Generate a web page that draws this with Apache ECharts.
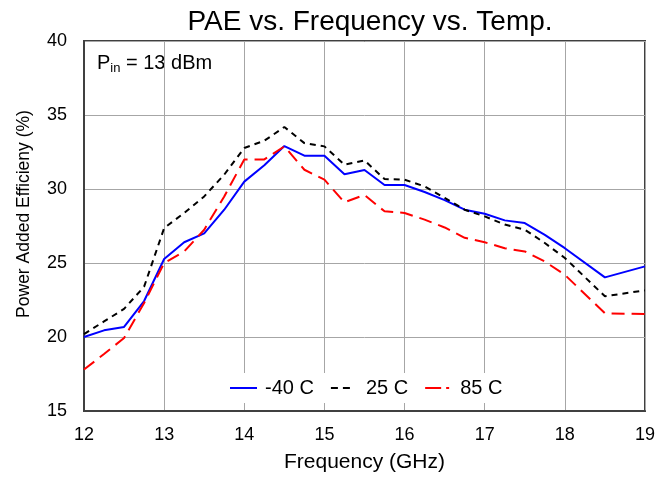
<!DOCTYPE html>
<html>
<head>
<meta charset="utf-8">
<script src="https://cdn.jsdelivr.net/npm/echarts@6/dist/echarts.min.js"></script>
<style>
  html, body { margin: 0; padding: 0; background: #fff; }
  #chart { width: 670px; height: 478px; }
</style>
</head>
<body>
<div id="chart"></div>
<script>
const freq = [12, 12.25, 12.5, 12.75, 13, 13.25, 13.5, 13.75, 14, 14.25, 14.5, 14.75, 15, 15.25, 15.5, 15.75, 16, 16.25, 16.5, 16.75, 17, 17.25, 17.5, 17.75, 18, 18.5, 19];
const paeM40 = [20.0, 20.45, 20.68, 22.43, 25.27, 26.4, 27.0, 28.6, 30.5, 31.6, 32.9, 32.25, 32.25, 31.0, 31.28, 30.27, 30.27, 29.8, 29.25, 28.6, 28.33, 27.88, 27.7, 26.9, 26.0, 24.03, 24.77];
const pae25 = [20.2, 21.05, 21.9, 23.4, 27.36, 28.38, 29.5, 30.97, 32.77, 33.26, 34.19, 33.1, 32.88, 31.64, 31.93, 30.67, 30.63, 30.18, 29.4, 28.6, 28.15, 27.6, 27.25, 26.35, 25.34, 22.75, 23.15];
const pae85 = [17.8, 18.85, 19.93, 22.3, 25.0, 25.78, 27.25, 29.5, 32.0, 32.0, 32.88, 31.3, 30.63, 29.1, 29.6, 28.49, 28.38, 27.93, 27.4, 26.7, 26.4, 26.0, 25.78, 25.1, 24.2, 21.6, 21.55];
const seriesNames = ['-40 C', '25 C', '85 C'];

function pairs(ys) {
  return freq.map((f, i) => [f, ys[i]]);
}

const chart = echarts.init(document.getElementById('chart'), null, { renderer: 'canvas' });
const font = 'Liberation Sans, Arial, sans-serif';

// legend icons: solid, short dashes, long+short dash (27 units wide)
const icons = [
  'path://M0,0H27V2H0Z',
  'path://M0,0H7V2H0Z M12,0H19V2H12Z M27,1L27,1',
  'path://M0,0H16V2H0Z M21,0H24V2H21Z M27,1L27,1'
];

const option = {
  backgroundColor: '#ffffff',
  animation: false,
  textStyle: { fontFamily: font },
  title: {
    text: 'PAE vs. Frequency vs. Temp.',
    left: 365,
    textAlign: 'center',
    top: 3,
    textStyle: { fontSize: 28, fontWeight: 'normal', color: '#000', fontFamily: font }
  },
  grid: {
    left: 84, right: 25, top: 41, bottom: 67,
    show: true, borderColor: '#404040', borderWidth: 2
  },
  legend: {
    data: seriesNames.map((n, i) => ({ name: n, icon: icons[i] })),
    left: 225,
    top: 373,
    itemWidth: 27,
    itemHeight: 2,
    itemGap: 17,
    backgroundColor: '#ffffff',
    padding: [5, 5],
    textStyle: { fontSize: 20, color: '#000', fontFamily: font, padding: [0, 0, 0, 3] }
  },
  xAxis: {
    type: 'value',
    min: 12, max: 19, interval: 1,
    name: 'Frequency (GHz)',
    nameLocation: 'middle',
    nameGap: 41,
    nameTextStyle: { fontSize: 21, color: '#000', fontFamily: font },
    axisLine: { show: true, lineStyle: { color: '#404040', width: 2 } },
    axisTick: { show: false },
    axisLabel: { fontSize: 18, color: '#000', margin: 15 },
    splitLine: { show: true, lineStyle: { color: '#a6a6a6', width: 1 } }
  },
  yAxis: {
    type: 'value',
    min: 15, max: 40, interval: 5,
    axisLine: { show: true, lineStyle: { color: '#404040', width: 2 } },
    axisTick: { show: false },
    axisLabel: { fontSize: 18, color: '#000', margin: 17 },
    splitLine: { show: true, lineStyle: { color: '#a6a6a6', width: 1 } }
  },
  graphic: [{
    type: 'text',
    x: 24,
    y: 214,
    rotation: Math.PI / 2,
    style: {
      text: 'Power Added Efficieny (%)',
      fontSize: 17.5,
      fontFamily: font,
      fill: '#000',
      align: 'center',
      verticalAlign: 'middle'
    }
  }, {
    type: 'text',
    left: 97,
    top: 53,
    style: {
      text: '{a|P}{b|in}{a| = 13 dBm}',
      rich: {
        a: { fontSize: 20, fontFamily: font, fill: '#000' },
        b: { fontSize: 13, fontFamily: font, fill: '#000', padding: [10, 0, 0, 0] }
      }
    }
  }],
  series: [{
    name: seriesNames[0],
    type: 'line',
    data: pairs(paeM40),
    symbol: 'none',
    color: '#0000ff',
    lineStyle: { color: '#0000ff', width: 2 }
  }, {
    name: seriesNames[1],
    type: 'line',
    data: pairs(pae25),
    symbol: 'none',
    color: '#000000',
    lineStyle: { color: '#000000', width: 2, type: [6, 5] }
  }, {
    name: seriesNames[2],
    type: 'line',
    data: pairs(pae85),
    symbol: 'none',
    color: '#ff0000',
    lineStyle: { color: '#ff0000', width: 2, type: [13, 7] }
  }]
};

chart.setOption(option);
</script>
</body>
</html>
